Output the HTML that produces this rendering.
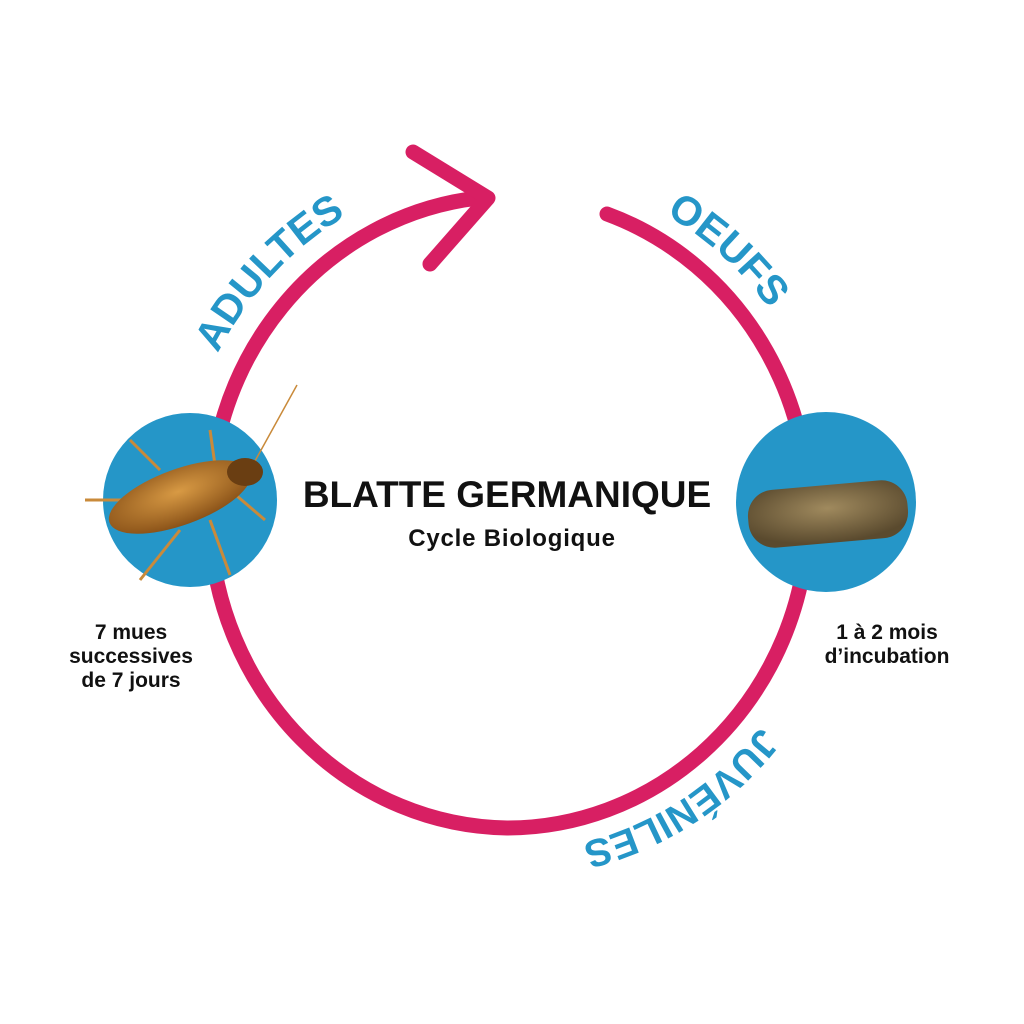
<!DOCTYPE html>
<html><head><meta charset="utf-8"><style>
html,body{margin:0;padding:0;background:#fff;}
svg{display:block;}
</style></head><body>
<svg width="1024" height="1024" viewBox="0 0 1024 1024" xmlns="http://www.w3.org/2000/svg" font-family="Liberation Sans, sans-serif">
<defs>
<path id="tp" d="M 180 512 A 327 340 0 1 1 834 512 A 327 340 0 1 1 180 512"/>
<radialGradient id="eg" cx="0.5" cy="0.4" r="0.6"><stop offset="0" stop-color="#a08a5e"/><stop offset="1" stop-color="#5a4a2e"/></radialGradient>
<radialGradient id="rg" cx="0.5" cy="0.4" r="0.6"><stop offset="0" stop-color="#d89a44"/><stop offset="1" stop-color="#8a5218"/></radialGradient>
</defs>
<!-- main arc -->
<path d="M 478 198 A 302 316 0 0 0 507 828 A 302 316 0 0 0 607 214" fill="none" stroke="#d81f63" stroke-width="15" stroke-linecap="round"/>
<polyline points="413,152 488,198 430,264" fill="none" stroke="#d81f63" stroke-width="15" stroke-linecap="round" stroke-linejoin="round"/>
<!-- curved labels -->
<g font-size="41" font-weight="bold" fill="#2596c8">
<text><textPath href="#tp" startOffset="12.4%" text-anchor="middle">ADULTES</textPath></text>
<text><textPath href="#tp" startOffset="36.3%" text-anchor="middle">OEUFS</textPath></text>
<text font-size="39"><textPath href="#tp" startOffset="66.2%" text-anchor="middle">JUVÉNILES</textPath></text>
</g>
<!-- circles -->
<circle cx="190" cy="500" r="87" fill="#2596c8"/>
<circle cx="826" cy="502" r="90" fill="#2596c8"/>
<!-- cockroach -->
<g stroke="#c98a3a" stroke-width="3" fill="none">
<line x1="160" y1="470" x2="130" y2="440"/><line x1="150" y1="500" x2="85" y2="500"/>
<line x1="180" y1="530" x2="140" y2="580"/><line x1="210" y1="520" x2="230" y2="575"/>
<line x1="230" y1="490" x2="265" y2="520"/><line x1="215" y1="465" x2="210" y2="430"/>
<line x1="250" y1="470" x2="297" y2="385" stroke-width="1.5"/>
</g>
<ellipse cx="180" cy="497" rx="75" ry="28" transform="rotate(-20 180 497)" fill="url(#rg)"/>
<ellipse cx="245" cy="472" rx="18" ry="14" fill="#6a3e12"/>
<!-- egg -->
<rect x="748" y="485" width="160" height="58" rx="26" transform="rotate(-5 828 514)" fill="url(#eg)"/>
<!-- center text -->
<text x="507" y="507" font-size="37" font-weight="bold" text-anchor="middle" fill="#111">BLATTE GERMANIQUE</text>
<text x="512" y="546" font-size="24" font-weight="bold" text-anchor="middle" fill="#111" letter-spacing="0.8">Cycle Biologique</text>
<g font-size="21" font-weight="bold" text-anchor="middle" fill="#111">
<text x="131" y="639">7 mues</text>
<text x="131" y="663">successives</text>
<text x="131" y="687">de 7 jours</text>
<text x="887" y="639">1 à 2 mois</text>
<text x="887" y="663">d’incubation</text>
</g>
</svg>
</body></html>
